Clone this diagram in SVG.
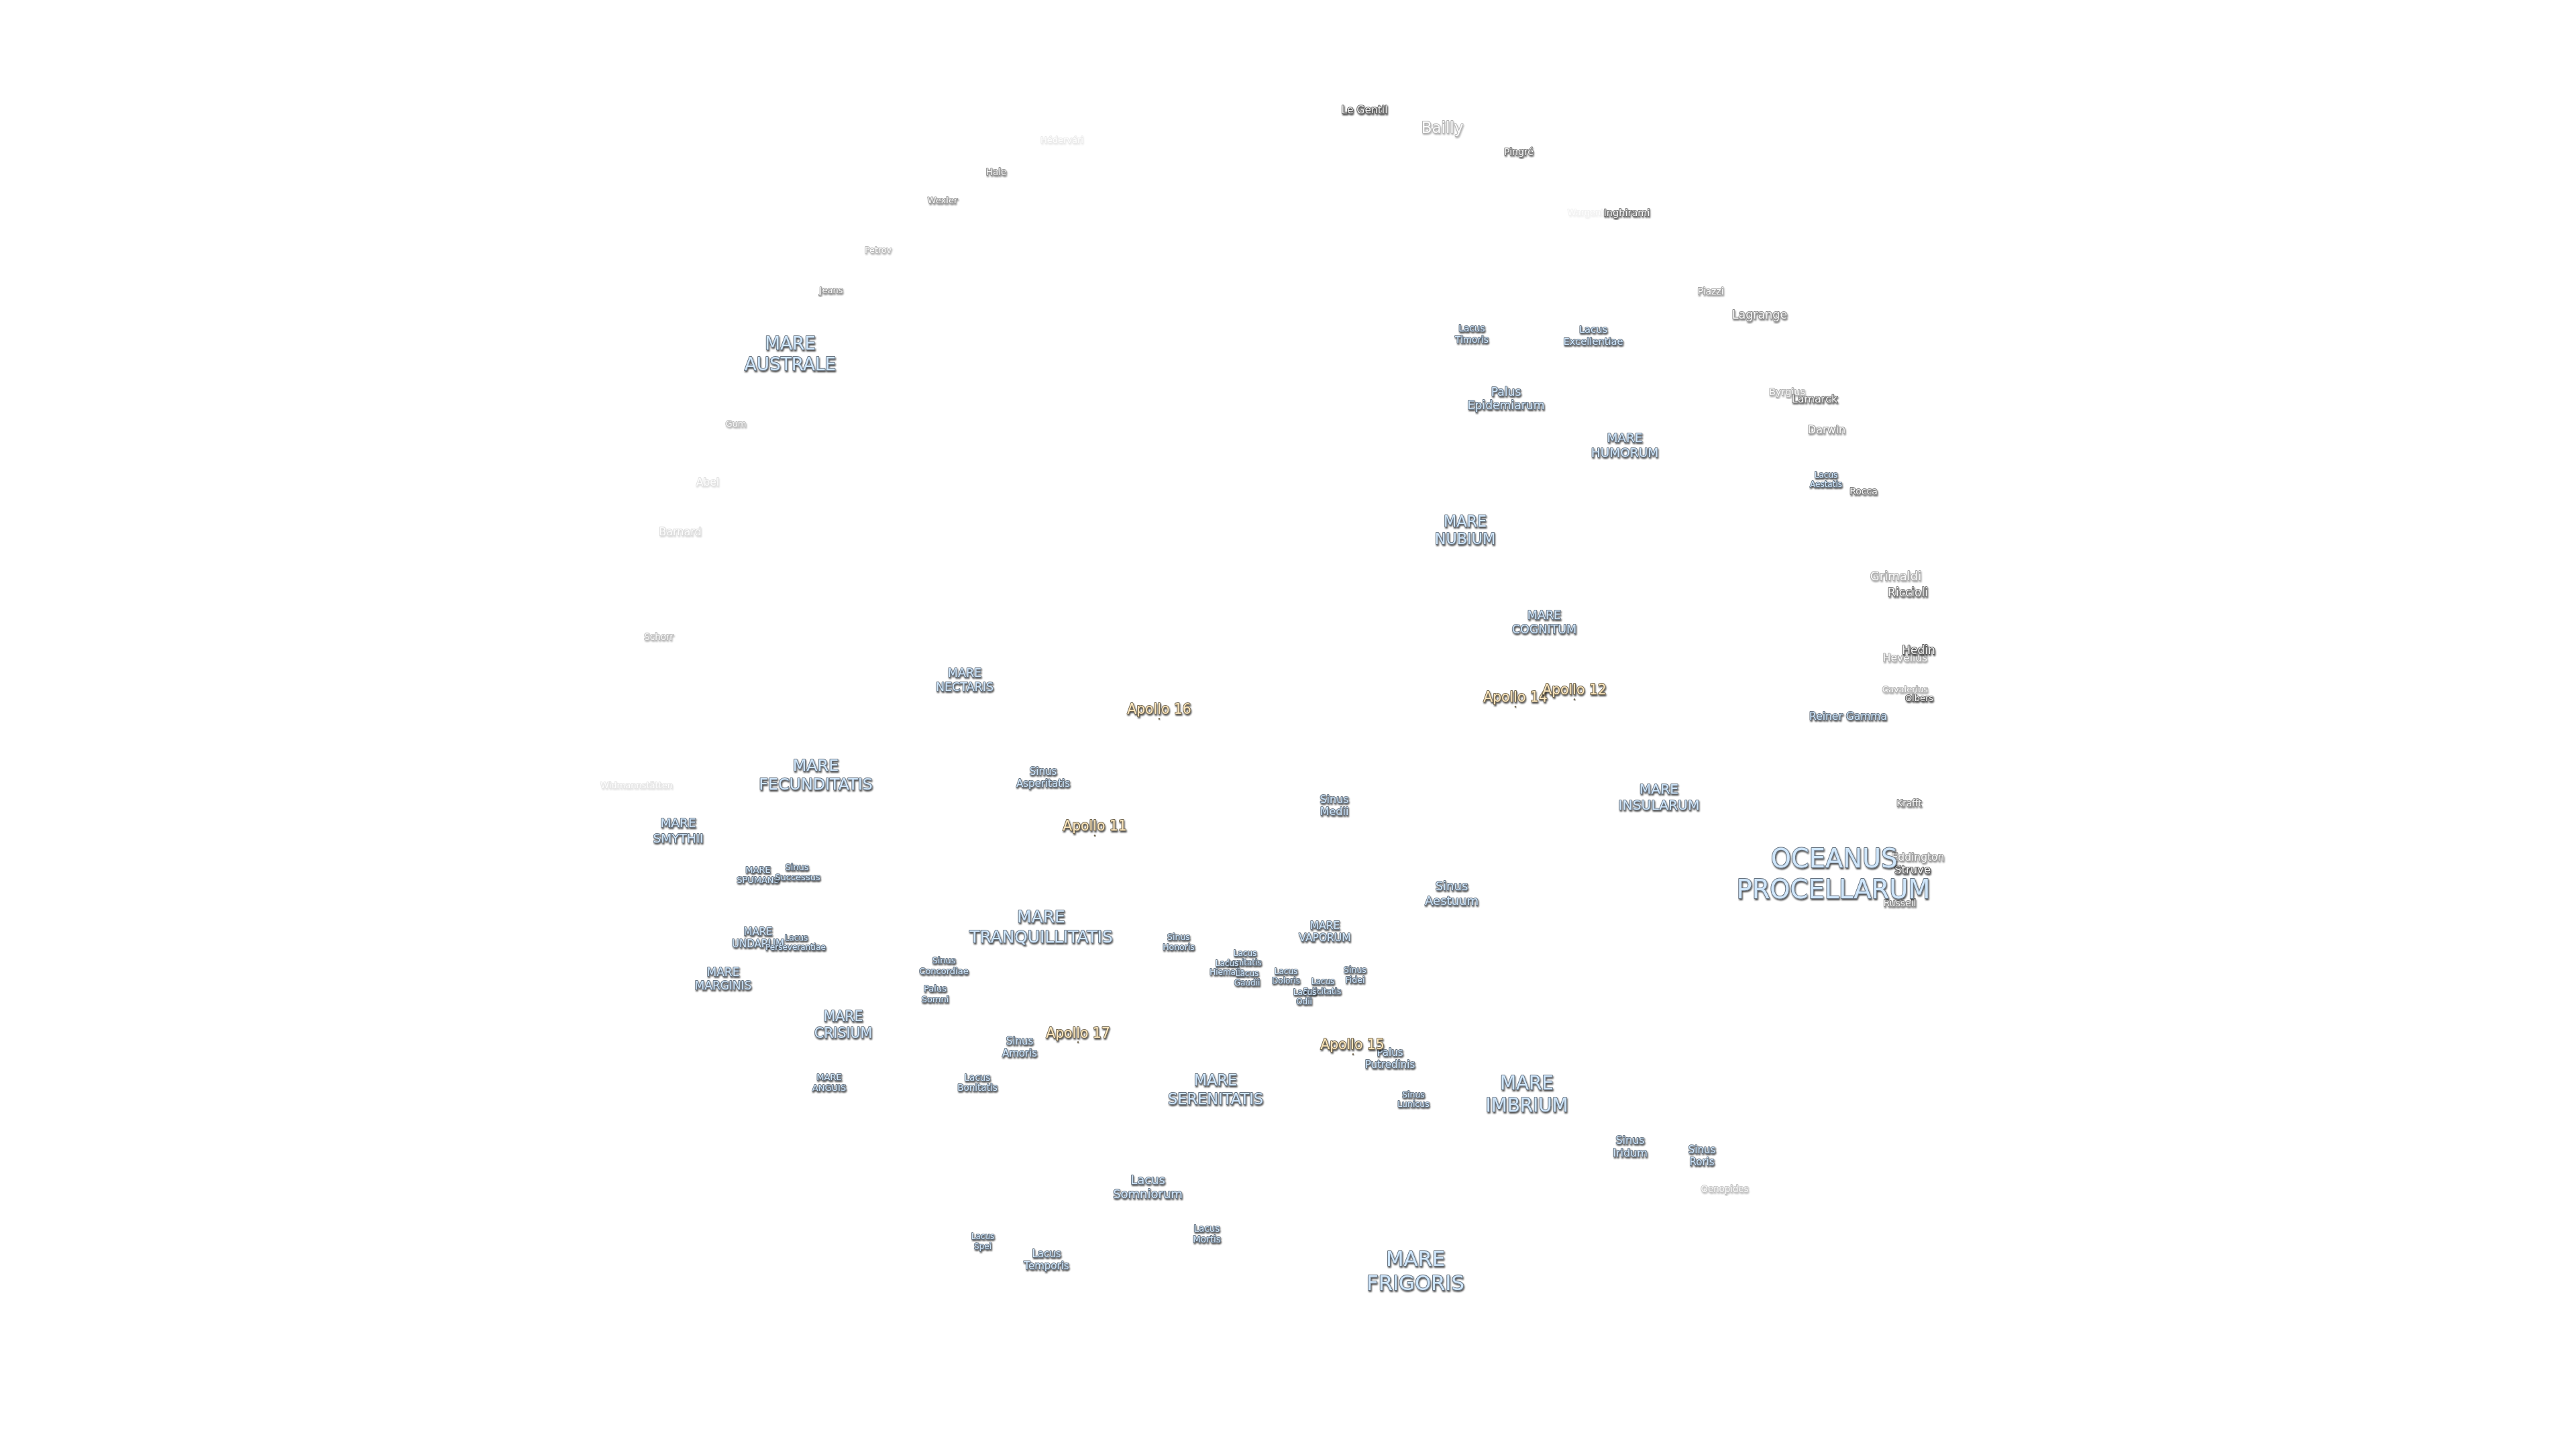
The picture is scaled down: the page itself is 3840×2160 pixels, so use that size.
<svg xmlns="http://www.w3.org/2000/svg" width="3840" height="2160" viewBox="0 0 3840 2160">
<style>
text{font-family:"DejaVu Sans",sans-serif;text-anchor:middle;paint-order:stroke;stroke-linejoin:round;filter:url(#h)}
.m{fill:#cfe6fb;stroke:#66727f;stroke-width:1.9}
.a{fill:#fbe6bd;stroke:#6e634d;stroke-width:1.9;font-size:20.4px}
.c{fill:#f4f4f4;stroke:#555;stroke-width:1.9}
.d{fill:#6b5f48;filter:url(#h)}
</style>
<defs><filter id="h" x="-20%" y="-20%" width="140%" height="140%"><feGaussianBlur in="SourceGraphic" stdDeviation="0.4" result="b"/><feOffset in="SourceAlpha" dx="1.4" dy="1.6"/><feGaussianBlur stdDeviation="0.8"/><feComponentTransfer><feFuncA type="linear" slope="0.7"/></feComponentTransfer><feMerge><feMergeNode/><feMergeNode in="b"/></feMerge></filter></defs>
<rect width="3840" height="2160" fill="#fff"/>
<g id="connectors"/>
<g transform="translate(0,-1.5)">
<g id="craters">
<g id="hedervari" opacity=".12"><text class="c" x="1583" y="214" font-size="13">Hédervári</text></g>
<g id="hale" opacity=".65"><text class="c" x="1485" y="262" font-size="13.5">Hale</text></g>
<g id="wexler" opacity=".6"><text class="c" x="1405" y="304" font-size="13">Wexler</text></g>
<g id="petrov" opacity=".4"><text class="c" x="1309" y="378" font-size="12.7">Petrov</text></g>
<g id="jeans" opacity=".6"><text class="c" x="1239" y="438" font-size="13">Jeans</text></g>
<g id="gum" opacity=".4"><text class="c" x="1097" y="637" font-size="13">Gum</text></g>
<g id="abel" opacity=".18"><text class="c" x="1055" y="725" font-size="15.5">Abel</text></g>
<g id="barnard" opacity=".22"><text class="c" x="1014" y="799" font-size="16">Barnard</text></g>
<g id="schorr" opacity=".4"><text class="c" x="982" y="955" font-size="13.5">Schorr</text></g>
<g id="widmanstatten" opacity=".15"><text class="c" x="949" y="1176" font-size="13">Widmannstätten</text></g>
<g id="le-gentil"><text class="c" x="2034" y="170" font-size="15.5">Le Gentil</text></g>
<g id="bailly" opacity=".45"><text class="c" x="2150" y="199" font-size="23">Bailly</text></g>
<g id="pingre" opacity=".8"><text class="c" x="2264" y="232" font-size="14">Pingré</text></g>
<g id="wargentin" opacity=".08"><text class="c" x="2370" y="322" font-size="13">Wargentin</text></g>
<g id="inghirami" opacity=".85"><text class="c" x="2425" y="323" font-size="14.5">Inghirami</text></g>
<g id="piazzi" opacity=".55"><text class="c" x="2550" y="440" font-size="14">Piazzi</text></g>
<g id="lagrange" opacity=".7"><text class="c" x="2623" y="476" font-size="17.5">Lagrange</text></g>
<g id="byrgius" opacity=".45"><text class="c" x="2664" y="590" font-size="14.5">Byrgius</text></g>
<g id="lamarck" opacity=".85"><text class="c" x="2705" y="601" font-size="16">Lamarck</text></g>
<g id="darwin" opacity=".6"><text class="c" x="2723" y="647" font-size="16">Darwin</text></g>
<g id="rocca" opacity=".8"><text class="c" x="2778" y="738" font-size="14">Rocca</text></g>
<g id="grimaldi" opacity=".5"><text class="c" x="2826" y="866" font-size="18">Grimaldi</text></g>
<g id="riccioli" opacity=".85"><text class="c" x="2844" y="890" font-size="17">Riccioli</text></g>
<g id="hevelius" opacity=".5"><text class="c" x="2840" y="987" font-size="15.5">Hevelius</text></g>
<g id="hedin"><text class="c" x="2860" y="976" font-size="17">Hedin</text></g>
<g id="cavalerius" opacity=".45"><text class="c" x="2840" y="1033" font-size="13">Cavalerius</text></g>
<g id="olbers" opacity=".95"><text class="c" x="2861" y="1046" font-size="13">Olbers</text></g>
<g id="krafft" opacity=".7"><text class="c" x="2846" y="1203" font-size="13.5">Krafft</text></g>
<g id="eddington" opacity=".6"><text class="c" x="2859" y="1284" font-size="15.5">Eddington</text></g>
<g id="struve"><text class="c" x="2851" y="1303" font-size="16.5">Struve</text></g>
<g id="russell" opacity=".7"><text class="c" x="2832" y="1352" font-size="14">Russell</text></g>
<g id="oenopides" opacity=".35"><text class="c" x="2571" y="1778" font-size="13.3">Oenopides</text></g>
</g>
<g id="maria">
<g id="mare-australe"><text class="m" font-size="26.3"><tspan x="1178" y="522">MARE</tspan><tspan x="1178" y="553">AUSTRALE</tspan></text></g>
<g id="lacus-timoris"><text class="m" font-size="13.7"><tspan x="2194" y="495">Lacus</tspan><tspan x="2194" y="512">Timoris</tspan></text></g>
<g id="lacus-excellentiae"><text class="m" font-size="14.7"><tspan x="2375" y="497">Lacus</tspan><tspan x="2375" y="515">Excellentiae</tspan></text></g>
<g id="palus-epidemiarum"><text class="m" font-size="17.2"><tspan x="2245" y="591">Palus</tspan><tspan x="2245" y="611">Epidemiarum</tspan></text></g>
<g id="mare-humorum"><text class="m" font-size="18.5"><tspan x="2422" y="660">MARE</tspan><tspan x="2422" y="682">HUMORUM</tspan></text></g>
<g id="lacus-aestatis"><text class="m" font-size="12"><tspan x="2722" y="713">Lacus</tspan><tspan x="2722" y="727">Aestatis</tspan></text></g>
<g id="mare-nubium"><text class="m" font-size="22.3"><tspan x="2184" y="786">MARE</tspan><tspan x="2184" y="812">NUBIUM</tspan></text></g>
<g id="mare-cognitum"><text class="m" font-size="17.5"><tspan x="2302" y="924">MARE</tspan><tspan x="2302" y="945">COGNITUM</tspan></text></g>
<g id="reiner-gamma"><text class="m" x="2755" y="1074" font-size="15.5">Reiner Gamma</text></g>
<g id="mare-insularum"><text class="m" font-size="20.3"><tspan x="2473" y="1184">MARE</tspan><tspan x="2473" y="1208">INSULARUM</tspan></text></g>
<g id="oceanus-procellarum"><text class="m" font-size="38.4"><tspan x="2734" y="1294">OCEANUS</tspan><tspan x="2733" y="1340">PROCELLARUM</tspan></text></g>
<g id="sinus-aestuum"><text class="m" font-size="18"><tspan x="2164" y="1328">Sinus</tspan><tspan x="2164" y="1350">Aestuum</tspan></text></g>
<g id="mare-nectaris"><text class="m" font-size="17.5"><tspan x="1438" y="1010">MARE</tspan><tspan x="1438" y="1031">NECTARIS</tspan></text></g>
<g id="mare-fecunditatis"><text class="m" font-size="23.8"><tspan x="1216" y="1150">MARE</tspan><tspan x="1216" y="1178">FECUNDITATIS</tspan></text></g>
<g id="mare-smythii"><text class="m" font-size="18.5"><tspan x="1011" y="1234">MARE</tspan><tspan x="1011" y="1257">SMYTHII</tspan></text></g>
<g id="mare-spumans"><text class="m" font-size="13"><tspan x="1130" y="1302">MARE</tspan><tspan x="1130" y="1317">SPUMANS</tspan></text></g>
<g id="sinus-successus"><text class="m" font-size="13"><tspan x="1188" y="1298">Sinus</tspan><tspan x="1189" y="1313">Successus</tspan></text></g>
<g id="mare-undarum"><text class="m" font-size="15"><tspan x="1130" y="1395">MARE</tspan><tspan x="1130" y="1413">UNDARUM</tspan></text></g>
<g id="lacus-perseverantiae"><text class="m" font-size="12"><tspan x="1187" y="1403">Lacus</tspan><tspan x="1186" y="1417">Perseverantiae</tspan></text></g>
<g id="mare-marginis"><text class="m" font-size="17"><tspan x="1078" y="1456">MARE</tspan><tspan x="1078" y="1476">MARGINIS</tspan></text></g>
<g id="mare-crisium"><text class="m" font-size="20.5"><tspan x="1257" y="1523">MARE</tspan><tspan x="1257" y="1548">CRISIUM</tspan></text></g>
<g id="mare-tranquillitatis"><text class="m" font-size="24.8"><tspan x="1552" y="1376">MARE</tspan><tspan x="1552" y="1406">TRANQUILLITATIS</tspan></text></g>
<g id="sinus-concordiae"><text class="m" font-size="13"><tspan x="1407" y="1437">Sinus</tspan><tspan x="1407" y="1453">Concordiae</tspan></text></g>
<g id="palus-somni"><text class="m" font-size="13"><tspan x="1394" y="1479">Palus</tspan><tspan x="1394" y="1495">Somni</tspan></text></g>
<g id="sinus-amoris"><text class="m" font-size="15"><tspan x="1520" y="1558">Sinus</tspan><tspan x="1520" y="1576">Amoris</tspan></text></g>
<g id="lacus-bonitatis"><text class="m" font-size="13.5"><tspan x="1457" y="1612">Lacus</tspan><tspan x="1457" y="1627">Bonitatis</tspan></text></g>
<g id="sinus-honoris"><text class="m" font-size="12.5"><tspan x="1757" y="1402">Sinus</tspan><tspan x="1757" y="1417">Honoris</tspan></text></g>
<g id="mare-vaporum"><text class="m" font-size="15.5"><tspan x="1975" y="1386">MARE</tspan><tspan x="1975" y="1404">VAPORUM</tspan></text></g>
<g id="lacus-lenitatis"><text class="m" font-size="12"><tspan x="1856" y="1426">Lacus</tspan><tspan x="1855" y="1440">Lenitatis</tspan></text></g>
<g id="lacus-hiemalis"><text class="m" font-size="12"><tspan x="1829" y="1441">Lacus</tspan><tspan x="1829" y="1454">Hiemalis</tspan></text></g>
<g id="lacus-gaudii"><text class="m" font-size="12"><tspan x="1859" y="1456">Lacus</tspan><tspan x="1859" y="1470">Gaudii</tspan></text></g>
<g id="lacus-doloris"><text class="m" font-size="12"><tspan x="1917" y="1453">Lacus</tspan><tspan x="1917" y="1467">Doloris</tspan></text></g>
<g id="lacus-felicitatis"><text class="m" font-size="12"><tspan x="1972" y="1468">Lacus</tspan><tspan x="1971" y="1483">Felicitatis</tspan></text></g>
<g id="lacus-odii"><text class="m" font-size="12"><tspan x="1945" y="1484">Lacus</tspan><tspan x="1944" y="1498">Odii</tspan></text></g>
<g id="sinus-fidei"><text class="m" font-size="12.5"><tspan x="2020" y="1451">Sinus</tspan><tspan x="2020" y="1466">Fidei</tspan></text></g>
<g id="palus-putredinis"><text class="m" font-size="15"><tspan x="2072" y="1575">Palus</tspan><tspan x="2072" y="1593">Putredinis</tspan></text></g>
<g id="sinus-lunicus"><text class="m" font-size="12.5"><tspan x="2107" y="1637">Sinus</tspan><tspan x="2107" y="1651">Lunicus</tspan></text></g>
<g id="mare-imbrium"><text class="m" font-size="27.8"><tspan x="2276" y="1625">MARE</tspan><tspan x="2276" y="1658">IMBRIUM</tspan></text></g>
<g id="sinus-iridum"><text class="m" font-size="16"><tspan x="2430" y="1706">Sinus</tspan><tspan x="2430" y="1725">Iridum</tspan></text></g>
<g id="sinus-roris"><text class="m" font-size="15"><tspan x="2537" y="1720">Sinus</tspan><tspan x="2537" y="1738">Roris</tspan></text></g>
<g id="mare-frigoris"><text class="m" font-size="30.7"><tspan x="2110" y="1888">MARE</tspan><tspan x="2110" y="1924">FRIGORIS</tspan></text></g>
<g id="mare-anguis"><text class="m" font-size="13"><tspan x="1236" y="1611">MARE</tspan><tspan x="1236" y="1627">ANGUIS</tspan></text></g>
<g id="mare-serenitatis"><text class="m" font-size="22.5"><tspan x="1812" y="1619">MARE</tspan><tspan x="1812" y="1647">SERENITATIS</tspan></text></g>
<g id="lacus-somniorum"><text class="m" font-size="18"><tspan x="1711" y="1766">Lacus</tspan><tspan x="1711" y="1787">Somniorum</tspan></text></g>
<g id="lacus-spei"><text class="m" font-size="12"><tspan x="1465" y="1848">Lacus</tspan><tspan x="1465" y="1863">Spei</tspan></text></g>
<g id="lacus-temporis"><text class="m" font-size="15"><tspan x="1560" y="1875">Lacus</tspan><tspan x="1560" y="1893">Temporis</tspan></text></g>
<g id="lacus-mortis"><text class="m" font-size="13.5"><tspan x="1799" y="1837">Lacus</tspan><tspan x="1799" y="1853">Mortis</tspan></text></g>
<g id="sinus-asperitatis"><text class="m" font-size="15"><tspan x="1555" y="1156">Sinus</tspan><tspan x="1555" y="1174">Asperitatis</tspan></text></g>
<g id="sinus-medii"><text class="m" font-size="16"><tspan x="1989" y="1198">Sinus</tspan><tspan x="1989" y="1216">Medii</tspan></text></g>
</g>
<g id="apollo">
<g id="apollo-14"><text class="a" x="2259" y="1047">Apollo 14</text><circle class="d" cx="2259" cy="1055" r="1.3"/></g>
<g id="apollo-12"><text class="a" x="2347" y="1036">Apollo 12</text><circle class="d" cx="2347" cy="1044" r="1.3"/></g>
<g id="apollo-16"><text class="a" x="1728" y="1065">Apollo 16</text><circle class="d" cx="1728" cy="1073" r="1.3"/></g>
<g id="apollo-11"><text class="a" x="1632" y="1239">Apollo 11</text><circle class="d" cx="1632" cy="1247" r="1.3"/></g>
<g id="apollo-17"><text class="a" x="1607" y="1548">Apollo 17</text><circle class="d" cx="1607" cy="1555" r="1.3"/></g>
<g id="apollo-15"><text class="a" x="2016" y="1565">Apollo 15</text><circle class="d" cx="2017" cy="1573" r="1.3"/></g>
</g>
</g>
</svg>
